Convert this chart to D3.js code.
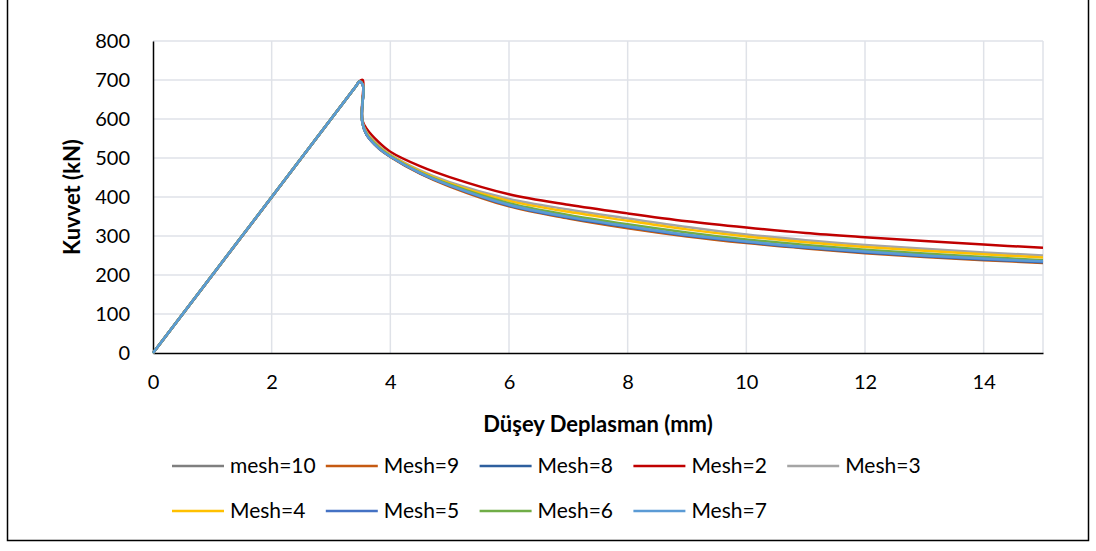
<!DOCTYPE html>
<html><head><meta charset="utf-8">
<script src="https://cdn.jsdelivr.net/npm/d3@7"></script>
<style>body{margin:0;background:#fff;} svg{display:block;font-family:Lato,"Open Sans",sans-serif;}</style>
</head><body>
<svg id="c" width="1096" height="551"></svg>
<script>
// Shared displacement values (mm)
const xs = [0, 3.42, 3.48, 3.535, 3.545, 3.53, 3.52, 3.53, 3.6, 3.8, 4, 4.5, 5, 6, 7, 8, 9, 10, 11, 12, 13, 14, 15];
// Force values (kN) per series
const seriesNames = ["mesh=10","Mesh=9","Mesh=8","Mesh=2","Mesh=3","Mesh=4","Mesh=5","Mesh=6","Mesh=7"];
const mesh10 = [0, 684, 696, 688, 667, 640, 615, 590, 560, 526, 504, 461, 429, 378, 347, 322, 301, 284, 270, 258, 248, 240, 233];
const mesh9  = [0, 684, 696, 688, 667, 640, 615, 590, 559, 525, 503, 460, 427, 376, 345, 320, 299, 282, 268, 256, 246, 238, 231];
const mesh8  = [0, 684, 696, 688, 667, 640, 615, 590, 560, 526, 504, 461, 429, 378, 347, 323, 301, 284, 270, 258, 248, 240, 233];
const mesh2  = [0, 684, 697, 700, 682, 650, 620, 596, 575, 541, 516, 479, 451, 407, 380, 358, 338, 322, 308, 297, 287, 278, 270];
const mesh3  = [0, 684, 696, 689, 670, 643, 617, 592, 566, 532, 509, 468, 438, 395, 368, 345, 323, 304, 289, 277, 267, 258, 250];
const mesh4  = [0, 684, 696, 689, 669, 642, 616, 591, 564, 530, 507, 466, 435, 390, 362, 339, 317, 299, 284, 272, 262, 253, 245];
const mesh5  = [0, 684, 696, 688, 667, 640, 615, 590, 560, 526, 504, 462, 430, 379, 348, 324, 302, 285, 271, 259, 249, 241, 234];
const mesh6  = [0, 684, 696, 688, 668, 641, 616, 590, 561, 528, 505, 463, 432, 384, 354, 330, 309, 291, 277, 265, 255, 246, 238];
const mesh7  = [0, 684, 696, 687, 666, 640, 615, 589, 560, 526, 504, 462, 430, 380, 349, 325, 303, 286, 272, 260, 250, 242, 235];
const seriesValues = [mesh10, mesh9, mesh8, mesh2, mesh3, mesh4, mesh5, mesh6, mesh7];
const seriesColors = ["#7f7f7f","#c55a11","#2e5f9e","#c00000","#a5a5a5","#ffc000","#4472c4","#70ad47","#5b9bd5"];
const xTicks = [0, 2, 4, 6, 8, 10, 12, 14];
const yTicks = [0, 100, 200, 300, 400, 500, 600, 700, 800];
const xTitle = "Düşey Deplasman (mm)";
const yTitle = "Kuvvet (kN)";

const svg = d3.select("#c");
// outer border
svg.append("rect").attr("x",7.5).attr("y",-2).attr("width",1081).attr("height",542.5)
  .attr("fill","none").attr("stroke","#000").attr("stroke-width",1.5);

const L=153, R=1043, T=41, B=353;
const x = d3.scaleLinear().domain([0,15]).range([L,R]);
const y = d3.scaleLinear().domain([0,800]).range([B,T]);

// gridlines
const grid = svg.append("g").attr("stroke","#dfe2e8").attr("stroke-width",1.5);
grid.selectAll(".gy").data(yTicks.filter(d=>d>0)).join("line")
  .attr("x1",L).attr("x2",R).attr("y1",d=>y(d)).attr("y2",d=>y(d));
grid.selectAll(".gx").data(xTicks.filter(d=>d>0).concat([15])).join("line")
  .attr("y1",T).attr("y2",B).attr("x1",d=>x(d)).attr("x2",d=>x(d));

// axes
const xAxis = d3.axisBottom(x).tickValues(xTicks).tickSize(0).tickPadding(22).tickFormat(d3.format("d"));
const yAxis = d3.axisLeft(y).tickValues(yTicks).tickSize(0).tickPadding(23).tickFormat(d3.format("d"));
const gx = svg.append("g").attr("transform",`translate(0,${B})`).call(xAxis);
const gy = svg.append("g").attr("transform",`translate(${L},0)`).call(yAxis);
[gx,gy].forEach(g=>{
  g.select(".domain").attr("stroke","#000").attr("stroke-width",1.5);
  g.selectAll("text").attr("font-size",20).attr("fill","#000").attr("font-family","Lato, 'Open Sans', sans-serif");
});

// series
const line = d3.line().x((d,i)=>x(xs[i])).y(d=>y(d)).curve(d3.curveCatmullRom.alpha(0.5));
seriesValues.forEach((vals,k)=>{
  svg.append("path").attr("d",line(vals)).attr("fill","none")
    .attr("stroke",seriesColors[k]).attr("stroke-width",2.5).attr("stroke-linejoin","round");
});

// titles
svg.append("text").attr("x",(L+R)/2).attr("y",432).attr("text-anchor","middle")
  .attr("font-size",22).attr("font-weight","bold").text(xTitle);
svg.append("text").attr("transform",`translate(80,${(T+B)/2}) rotate(-90)`).attr("text-anchor","middle")
  .attr("font-size",22).attr("font-weight","bold").text(yTitle);

// legend
const leg = svg.append("g");
seriesNames.forEach((n,i)=>{
  const row = i<5?0:1, col = i<5?i:i-5;
  const lx = 172 + col*153.8, ly = row===0?466:511;
  leg.append("line").attr("x1",lx).attr("x2",lx+52).attr("y1",ly).attr("y2",ly)
    .attr("stroke",seriesColors[i]).attr("stroke-width",2.5);
  leg.append("text").attr("x",lx+58).attr("y",ly).attr("dy","0.35em")
    .attr("font-size",21).text(n);
});
</script>
</body></html>
